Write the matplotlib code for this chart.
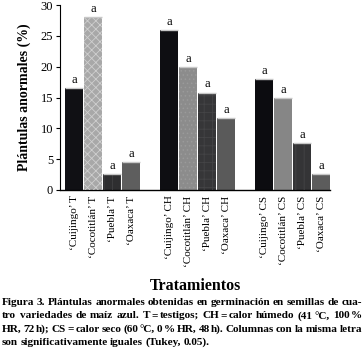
import matplotlib
matplotlib.use("Agg")
import matplotlib.pyplot as plt

categories = ["‘Cuijingo’ T", "‘Cocotitlán’ T", "‘Puebla’ T", "‘Oaxaca’ T",
              "‘Cuijingo’ CH", "‘Cocotitlán’ CH", "‘Puebla’ CH", "‘Oaxaca’ CH",
              "‘Cuijingo’ CS", "‘Cocotitlán’ CS", "‘Puebla’ CS", "‘Oaxaca’ CS"]
values = [16.5, 28.0, 2.6, 4.5, 26.0, 20.0, 15.8, 11.6, 18.0, 14.9, 7.6, 2.6]
letters = ["a"] * 12
yticks = [0, 5, 10, 15, 20, 25, 30]

colors = ["#101014", "#a8a8a8", "#2e2e30", "#5e5e5e",
          "#0e0e12", "#8c8c8c", "#363638", "#5a5a5a",
          "#0c0c10", "#868686", "#343436", "#5c5c5c"]
hatches = [None, "xxxx", "||", None,
           None, "....", "++", None,
           None, None, "||", None]
hatch_cols = [None, "#cfcfcf", "#404042", None,
              None, "#9a9a9a", "#444446", None,
              None, None, "#454547", None]

caption_lines = [
    "Figura 3. Plántulas anormales obtenidas en germinación en semillas de cua-",
    "tro variedades de maíz azul. T = testigos; CH = calor húmedo (41 °C, 100 %",
    "HR, 72 h); CS = calor seco (60 °C, 0 % HR, 48 h). Columnas con la misma letra",
    "son significativamente iguales (Tukey, 0.05).",
]

FONT = "Liberation Serif"
plt.rcParams["font.family"] = [FONT, "DejaVu Serif"]
plt.rcParams["hatch.linewidth"] = 0.6

W = H = 364
fig = plt.figure(figsize=(3.64, 3.64), dpi=100)
ax = fig.add_axes([60 / W, 1 - 190 / H, 270 / W, 185 / H])

pos = [i + i // 4 for i in range(len(values))]
bw = 0.94
for i, (p, v) in enumerate(zip(pos, values)):
    ax.bar(p, v, width=bw, color=colors[i], edgecolor="none", zorder=2)
    if hatches[i]:
        ax.bar(p, v, width=bw, color="none", edgecolor=hatch_cols[i],
               hatch=hatches[i], linewidth=0, zorder=3)
    ax.plot([p - bw / 2, p + bw / 2], [v, v], color="#c8c8c8", lw=1.0,
            zorder=4, solid_capstyle="butt")
    ax.text(p, v + 0.35, letters[i], ha="center", va="bottom",
            fontsize=9, fontfamily=FONT)

ax.set_xlim(-0.75, 13.47)
ax.set_ylim(0, 30)
ax.set_yticks(yticks)
ax.set_yticklabels([str(t) for t in yticks], fontsize=9)
ax.set_xticks(pos)
ax.set_xticklabels(categories, rotation=90, fontsize=8, va="top", ha="center")
ax.tick_params(axis="x", length=0, pad=4)
ax.tick_params(axis="y", length=3, width=0.8, pad=2)
for s in ["top", "right"]:
    ax.spines[s].set_visible(False)
ax.spines["left"].set_linewidth(0.8)
ax.spines["bottom"].set_linewidth(1.0)
ax.set_ylabel("Plántulas anormales (%)", fontsize=10, fontweight="bold",
              labelpad=7)

fig.text(195 / W, 1 - 286 / H, "Tratamientos", ha="center", va="center",
         fontsize=11.5, fontweight="bold")

# justified caption
renderer = fig.canvas.get_renderer()
left, right = 2, 362
ys = [302.5, 315.8, 329.1, 342.4]
thin = 1.3
min_gap = 2.0


def txt_w(s, fs):
    t = fig.text(0, 0, s, fontsize=fs, fontweight="bold")
    w = t.get_window_extent(renderer).width
    t.remove()
    return w


def is_thin(prev, nxt):
    return (nxt.startswith("°") or nxt in ("%", "=", "h)", "h);", "h).")
            or prev == "=")


def gap_kinds(words):
    return [is_thin(words[k], words[k + 1]) for k in range(len(words) - 1)]


base = 8.0
fits = []
for l in caption_lines[:-1]:
    ws = l.split(" ")
    kinds = gap_kinds(ws)
    nthin = sum(kinds)
    nflex = len(kinds) - nthin
    sw = sum(txt_w(w, base) for w in ws)
    fits.append(base * (right - left - thin * nthin - min_gap * nflex) / sw)
cap_fs = min(fits)
for li, (line, y) in enumerate(zip(caption_lines, ys)):
    words = line.split(" ")
    kinds = gap_kinds(words)
    widths = [txt_w(w, cap_fs) for w in words]
    total = sum(widths)
    nthin = sum(kinds)
    nflex = len(kinds) - nthin
    if li < len(caption_lines) - 1:
        flex = (right - left - total - thin * nthin) / max(nflex, 1)
    else:
        flex = min_gap + 0.4
    x = left
    for k, (w, wd) in enumerate(zip(words, widths)):
        fig.text(x / W, 1 - y / H, w, fontsize=cap_fs, fontweight="bold",
                 ha="left", va="center")
        if k < len(kinds):
            x += wd + (thin if kinds[k] else flex)

fig.savefig("out.png", dpi=100)
